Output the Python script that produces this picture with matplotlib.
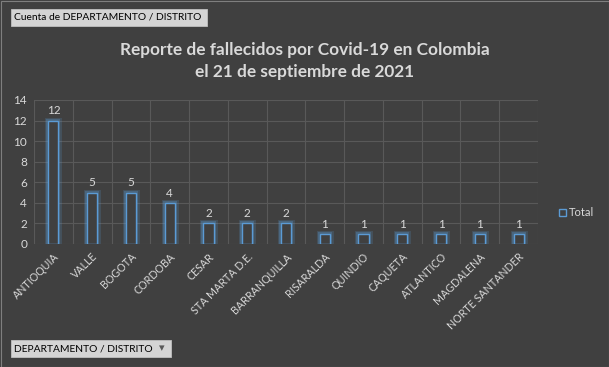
import matplotlib
matplotlib.use("Agg")
import matplotlib.pyplot as plt
import matplotlib.patheffects as pe
from matplotlib.patches import FancyBboxPatch

categories = ["ANTIOQUIA", "VALLE", "BOGOTA", "CORDOBA", "CESAR", "STA MARTA D.E.",
              "BARRANQUILLA", "RISARALDA", "QUINDIO", "CAQUETA", "ATLANTICO",
              "MAGDALENA", "NORTE SANTANDER"]
values = [12, 5, 5, 4, 2, 2, 2, 1, 1, 1, 1, 1, 1]
yticks = [0, 2, 4, 6, 8, 10, 12, 14]
title = "Reporte de fallecidos por Covid-19 en Colombia\nel 21 de septiembre de 2021"
series_name = "Total"

BG = "#404040"
TXT = "#d9d9d9"
GRID = "#595959"
BLUE = "#5b9bd5"

plt.rcParams['font.family'] = ['Lato', 'DejaVu Sans']

fig = plt.figure(figsize=(6.09, 3.67), dpi=100, facecolor=BG)
W, H = 609, 367
ax = fig.add_axes([34 / W, 1 - 244 / H, (538 - 34) / W, (244 - 100) / H])
ax.set_facecolor(BG)

x = list(range(len(categories)))
bars = ax.bar(x, values, width=0.26, facecolor=BG, edgecolor=BLUE, linewidth=1.0)
for b in bars:
    b.set_path_effects([pe.Stroke(linewidth=5, foreground=BLUE, alpha=0.18),
                        pe.Stroke(linewidth=3, foreground=BLUE, alpha=0.3),
                        pe.Normal()])
for xi, v in zip(x, values):
    ax.text(xi, v + 0.4, str(v), ha="center", va="bottom", color=TXT, fontsize=8.5)

ax.set_xlim(-0.5, len(categories) - 0.5)
ax.set_ylim(0, 14)
ax.set_yticks(yticks)
ax.set_yticklabels([str(t) for t in yticks], color=TXT, fontsize=8.5)
ax.set_xticks(x)
ax.set_xticklabels(categories, rotation=45, ha="right", rotation_mode="anchor",
                   color=TXT, fontsize=7.7)
ax.tick_params(length=0, pad=5)
ax.set_xticks([i + 0.5 for i in range(-1, len(categories))], minor=True)
ax.tick_params(which="minor", length=0)
ax.grid(True, axis="y", which="major", color=GRID, linewidth=0.8)
ax.grid(True, axis="x", which="minor", color=GRID, linewidth=0.8)
ax.grid(False, axis="x", which="major")
for s in ax.spines.values():
    s.set_visible(False)
ax.set_axisbelow(True)

fig.text(305 / W, 1 - 61 / H, title, ha="center", va="center", color=TXT,
         fontsize=12.4, fontweight="bold", linespacing=1.4)

# legend
fig.patches.append(FancyBboxPatch((559 / W, 1 - 216 / H), 7 / W, 7 / H,
                                  boxstyle="square,pad=0", transform=fig.transFigure,
                                  facecolor=BG, edgecolor=BLUE, linewidth=1.0))
fig.text(569 / W, 1 - 212 / H, series_name, ha="left", va="center", color=TXT, fontsize=8)

# field buttons
def button(x0, y0, x1, y1, label, arrow=False):
    fig.patches.append(FancyBboxPatch((x0 / W, 1 - y1 / H), (x1 - x0) / W, (y1 - y0) / H,
                                      boxstyle="square,pad=0", transform=fig.transFigure,
                                      facecolor="#d4d4d4", edgecolor="#bfbfbf", linewidth=0.6))
    fig.text((x0 + 3) / W, 1 - (y0 + y1) / 2 / H, label, ha="left", va="center",
             color="black", fontsize=7.4)
    if arrow:
        fig.text((x1 - 9) / W, 1 - (y0 + y1) / 2 / H, "\u25BE", ha="center", va="center",
                 color="#595959", fontsize=8, family="DejaVu Sans")

button(11, 9, 207, 26, "Cuenta de DEPARTAMENTO / DISTRITO")
button(11, 340, 171, 357, "DEPARTAMENTO / DISTRITO", arrow=True)

# outer border
fig.patches.append(FancyBboxPatch((0.5 / W, 0.5 / H), (W - 1) / W, (H - 1) / H,
                                  boxstyle="square,pad=0", transform=fig.transFigure,
                                  facecolor="none", edgecolor="#7f7f7f", linewidth=0.8))

fig.savefig("out.png", dpi=100, facecolor=BG)
